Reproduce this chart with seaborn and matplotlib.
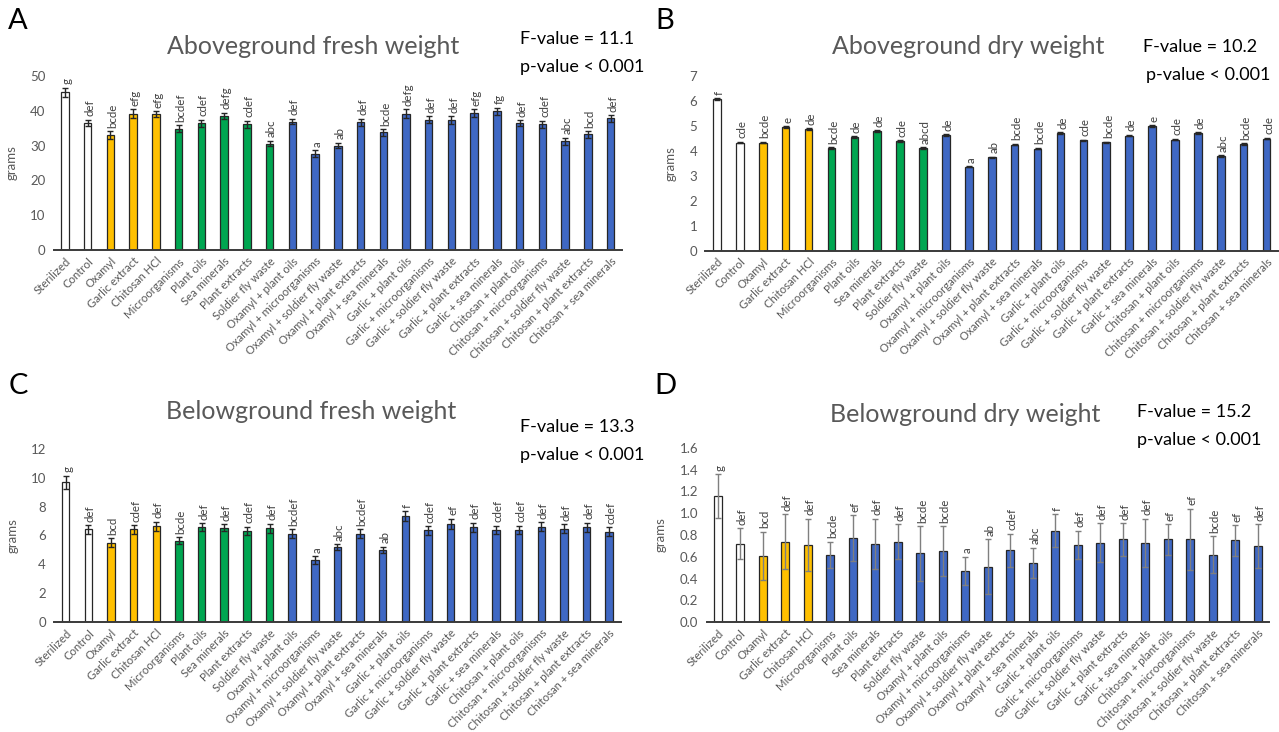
import matplotlib
matplotlib.use('Agg')
import matplotlib.pyplot as plt
import seaborn as sns
import pandas as pd

treatments = [
    'Sterilized', 'Control', 'Oxamyl', 'Garlic extract', 'Chitosan HCl',
    'Microorganisms', 'Plant oils', 'Sea minerals', 'Plant extracts', 'Soldier fly waste',
    'Oxamyl + plant oils', 'Oxamyl + microorganisms', 'Oxamyl + soldier fly waste',
    'Oxamyl + plant extracts', 'Oxamyl + sea minerals',
    'Garlic + plant oils', 'Garlic + microorganisms', 'Garlic + soldier fly waste',
    'Garlic + plant extracts', 'Garlic + sea minerals',
    'Chitosan + plant oils', 'Chitosan + microorganisms', 'Chitosan + soldier fly waste',
    'Chitosan + plant extracts', 'Chitosan + sea minerals',
]
# treatment group of each bar (drives the colour)
groups = ['none', 'none', 'chem', 'chem', 'chem',
          'single', 'single', 'single', 'single', 'single'] + ['combo'] * 15
groups_d = ['none', 'none', 'chem', 'chem', 'chem'] + ['combo'] * 20

# A - aboveground fresh weight
fresh_above = [45.3, 36.5, 33.0, 39.2, 39.0, 34.9, 36.4, 38.6, 36.1, 30.6,
               36.9, 27.7, 30.0, 36.7, 33.8, 39.2, 37.5, 37.3, 39.3, 39.9,
               36.4, 36.1, 31.2, 33.2, 37.8]
fresh_above_err = [1.3, 1.0, 1.1, 1.2, 0.9, 0.9, 1.1, 0.9, 1.0, 0.8,
                   0.8, 1.0, 0.8, 1.0, 0.9, 1.2, 0.9, 1.1, 1.2, 1.0,
                   0.9, 1.0, 1.0, 0.9, 0.9]
fresh_above_letters = ['g', 'def', 'bcde', 'efg', 'efg', 'bcdef', 'cdef', 'defg', 'cdef', 'abc',
                       'def', 'a', 'ab', 'def', 'bcde', 'defg', 'def', 'def', 'efg', 'fg',
                       'def', 'cdef', 'abc', 'bcd', 'def']

# B - aboveground dry weight
dry_above = [6.06, 4.33, 4.33, 4.95, 4.87, 4.11, 4.55, 4.79, 4.39, 4.12,
             4.63, 3.36, 3.74, 4.25, 4.09, 4.71, 4.42, 4.34, 4.61, 4.99,
             4.45, 4.71, 3.79, 4.27, 4.49]
dry_above_err = [0.04, 0.03, 0.03, 0.03, 0.03, 0.03, 0.03, 0.03, 0.03, 0.03,
                 0.03, 0.03, 0.03, 0.03, 0.03, 0.03, 0.03, 0.03, 0.03, 0.03,
                 0.03, 0.03, 0.03, 0.03, 0.03]
dry_above_letters = ['f', 'cde', 'bcde', 'e', 'de', 'bcde', 'de', 'de', 'cde', 'abcd',
                     'de', 'a', 'ab', 'bcde', 'bcde', 'de', 'cde', 'bcde', 'de', 'e',
                     'cde', 'de', 'abc', 'bcde', 'cde']

# C - belowground fresh weight
fresh_below = [9.69, 6.43, 5.50, 6.43, 6.64, 5.64, 6.59, 6.54, 6.31, 6.50,
               6.13, 4.30, 5.20, 6.13, 5.02, 7.35, 6.36, 6.82, 6.57, 6.38,
               6.38, 6.61, 6.47, 6.57, 6.27]
fresh_below_err = [0.45, 0.30, 0.30, 0.30, 0.30, 0.25, 0.25, 0.25, 0.30, 0.30,
                   0.30, 0.25, 0.20, 0.30, 0.20, 0.35, 0.30, 0.35, 0.30, 0.30,
                   0.30, 0.30, 0.30, 0.30, 0.30]
fresh_below_letters = ['g', 'def', 'bcd', 'cdef', 'def', 'bcde', 'def', 'def', 'cdef', 'def',
                       'bcdef', 'a', 'abc', 'bcdef', 'ab', 'f', 'cdef', 'ef', 'def', 'cdef',
                       'cdef', 'def', 'def', 'def', 'cdef']

# D - belowground dry weight
dry_below = [1.16, 0.72, 0.61, 0.74, 0.71, 0.62, 0.77, 0.72, 0.74, 0.63,
             0.65, 0.47, 0.51, 0.66, 0.545, 0.84, 0.71, 0.73, 0.76, 0.73,
             0.76, 0.76, 0.62, 0.75, 0.70]
dry_below_err = [0.20, 0.14, 0.22, 0.25, 0.24, 0.12, 0.21, 0.23, 0.16, 0.25,
                 0.23, 0.13, 0.25, 0.15, 0.14, 0.15, 0.13, 0.18, 0.15, 0.22,
                 0.14, 0.28, 0.17, 0.14, 0.20]
dry_below_letters = ['g', 'def', 'bcd', 'def', 'def', 'bcde', 'ef', 'def', 'def', 'bcde',
                     'bcde', 'a', 'ab', 'cdef', 'abc', 'f', 'def', 'def', 'def', 'def',
                     'ef', 'ef', 'bcde', 'ef', 'def']

group_colors = {'none': '#FFFFFF', 'chem': '#FFC000', 'single': '#00A651', 'combo': '#3F68C4'}
GRAY = '#595959'

sns.set_theme(style='white')
plt.rcParams['font.family'] = ['Lato', 'DejaVu Sans']

W, H = 1279, 732
fig = plt.figure(figsize=(W / 100, H / 100), dpi=100)


def px(x0, y0, x1, y1):
    # pixel box (left, top, right, bottom) -> figure fraction rect
    return [x0 / W, 1 - y1 / H, (x1 - x0) / W, (y1 - y0) / H]


def draw_panel(rect, values, errs, letters, grp, ymax, ystep, yfmt, ecolor, bar_w):
    ax = fig.add_axes(rect)
    df = pd.DataFrame({'treatment': treatments, 'grams': values, 'group': grp})
    pal = {t: group_colors[g] for t, g in zip(treatments, grp)}
    sns.barplot(data=df, x='treatment', y='grams', hue='treatment', palette=pal,
                saturation=1, legend=False, errorbar=None, width=bar_w,
                edgecolor='#262626', linewidth=0.9, ax=ax, zorder=2)
    ax.errorbar(range(len(values)), values, yerr=errs, fmt='none', ecolor=ecolor,
                elinewidth=1.0, capsize=2.5, capthick=1.0, zorder=3)
    for i, (v, e, lab) in enumerate(zip(values, errs, letters)):
        ax.annotate(lab, (i, v + e), xytext=(1.5, 2.5), textcoords='offset points',
                    rotation=90, ha='center', va='bottom', fontsize=8.3, color='#404040')
    ax.set_ylim(0, ymax)
    ticks = [k * ystep for k in range(int(round(ymax / ystep)) + 1)]
    ax.set_yticks(ticks)
    ax.set_yticklabels([yfmt.format(t) for t in ticks], fontsize=9.5, color=GRAY)
    ax.set_xlim(-0.5, len(values) - 0.5)
    ax.set_xticks(range(len(values)))
    ax.set_xticklabels(treatments, rotation=45, ha='right', rotation_mode='anchor',
                       fontsize=8.2, color=GRAY)
    ax.tick_params(axis='x', length=0, pad=4)
    ax.tick_params(axis='y', length=0, pad=6)
    ax.set_xlabel('')
    ax.set_ylabel('grams', fontsize=9.5, color=GRAY, labelpad=9)
    for s in ['left', 'top', 'right']:
        ax.spines[s].set_visible(False)
    ax.spines['bottom'].set_color('#3a3a3a')
    ax.spines['bottom'].set_linewidth(1.4)
    ax.set_facecolor('none')
    return ax


draw_panel(px(53.6, 76, 622, 250), fresh_above, fresh_above_err, fresh_above_letters,
           groups, 50, 10, '{:.0f}', '#262626', 0.33)
draw_panel(px(705.5, 76, 1278, 250.5), dry_above, dry_above_err, dry_above_letters,
           groups, 7, 1, '{:.0f}', '#262626', 0.33)
draw_panel(px(54.4, 449, 620.5, 622), fresh_below, fresh_below_err, fresh_below_letters,
           groups, 12, 2, '{:.0f}', '#262626', 0.33)
draw_panel(px(706.5, 448, 1269, 622), dry_below, dry_below_err, dry_below_letters,
           groups_d, 1.6, 0.2, '{:.1f}', '#7f7f7f', 0.36)

# panel letters, titles and ANOVA stats
for lab, x, y in [('A', 18, 21), ('B', 665, 21), ('C', 18, 386), ('D', 665, 386)]:
    fig.text(x / W, 1 - y / H, lab, fontsize=21, ha='center', va='center', color='black')

titles = [('Aboveground fresh weight', 313, 46), ('Aboveground dry weight', 968, 47),
          ('Belowground fresh weight', 311, 412), ('Belowground dry weight', 965, 414)]
for t, x, y in titles:
    fig.text(x / W, 1 - y / H, t, fontsize=18, ha='center', va='center', color=GRAY)

stats = [('F-value = 11.1', 520, 39), ('p-value < 0.001', 520, 67),
         ('F-value = 10.2', 1143, 47), ('p-value < 0.001', 1146, 75),
         ('F-value = 13.3', 520, 427), ('p-value < 0.001', 520, 455),
         ('F-value = 15.2', 1137, 412), ('p-value < 0.001', 1137, 440)]
for t, x, y in stats:
    fig.text(x / W, 1 - y / H, t, fontsize=13, ha='left', va='center', color='black')

fig.savefig('out.png', dpi=100)
